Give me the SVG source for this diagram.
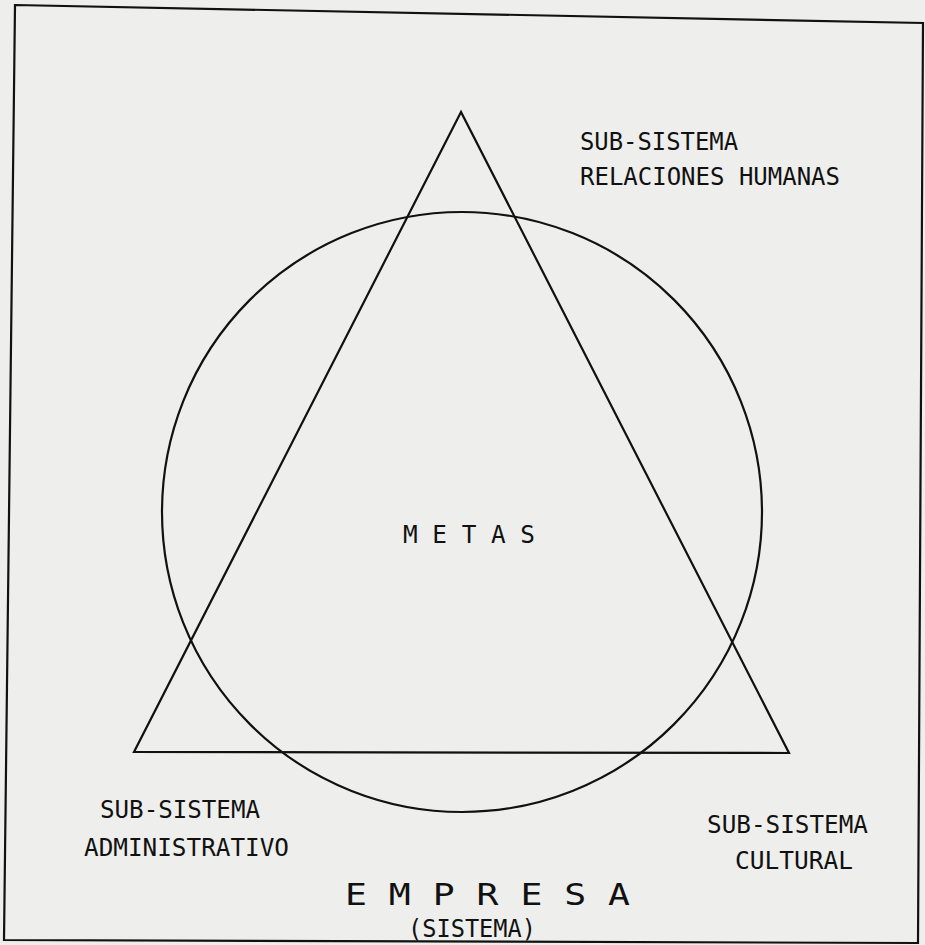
<svg xmlns="http://www.w3.org/2000/svg" width="925" height="945" viewBox="0 0 925 945">
<style>
.ln{fill:none;stroke:#111;stroke-width:2.2}
.t{font-family:"DejaVu Sans Mono","Liberation Mono",monospace;font-size:24px;fill:#111}
.big{font-size:30px}
</style>
<rect width="925" height="945" fill="#eeeeec"/>
<path class="ln" d="M15,5 L923,23 L918,943 L4,940 Z" stroke-width="2.8"/>
<g id="triangle"><path class="ln" d="M461,112 L134,752 L789,753 Z"/></g>
<g id="circle"><circle class="ln" cx="462" cy="512" r="300"/></g>
<g id="metas"><text class="t" x="403" y="543" textLength="132" lengthAdjust="spacingAndGlyphs">M E T A S</text></g>
<g id="rel-humanas">
<text class="t" x="580" y="150" textLength="158" lengthAdjust="spacingAndGlyphs">SUB-SISTEMA</text>
<text class="t" x="580" y="185" textLength="260" lengthAdjust="spacingAndGlyphs">RELACIONES HUMANAS</text>
</g>
<g id="administrativo">
<text class="t" x="100" y="818" textLength="160" lengthAdjust="spacingAndGlyphs">SUB-SISTEMA</text>
<text class="t" x="84" y="856" textLength="205" lengthAdjust="spacingAndGlyphs">ADMINISTRATIVO</text>
</g>
<g id="cultural">
<text class="t" x="707" y="833" textLength="161" lengthAdjust="spacingAndGlyphs">SUB-SISTEMA</text>
<text class="t" x="735" y="869" textLength="118" lengthAdjust="spacingAndGlyphs">CULTURAL</text>
</g>
<g id="empresa">
<text class="t big" x="345" y="905" textLength="285" lengthAdjust="spacingAndGlyphs">E  M  P  R  E  S  A</text>
<text class="t" x="408" y="937" textLength="128" lengthAdjust="spacingAndGlyphs">(SISTEMA)</text>
</g>
</svg>
